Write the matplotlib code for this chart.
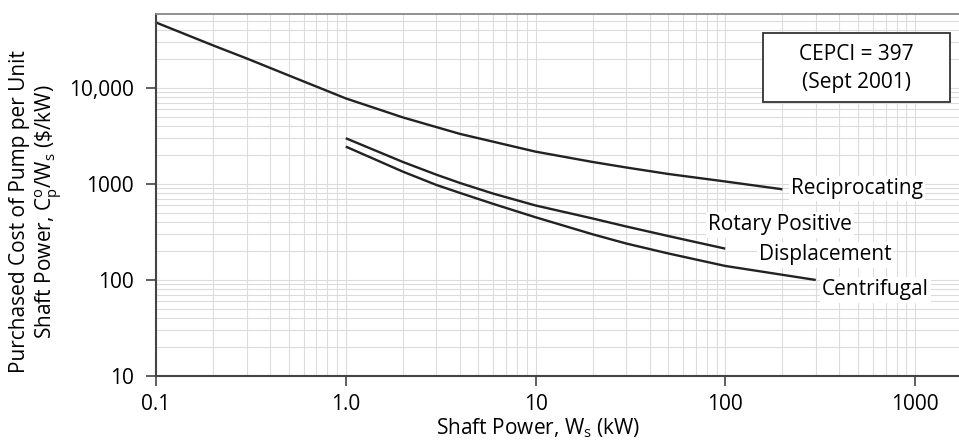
import matplotlib
matplotlib.use("Agg")
from matplotlib import pyplot as plt
from matplotlib.patches import Rectangle
from matplotlib.ticker import FixedLocator, LogLocator, NullFormatter

plt.rcParams['font.family'] = ['Open Sans', 'DejaVu Sans']

# values (kW, $/kW)
recip_x = [0.1, 0.2, 0.3, 0.5, 1.0, 2.0, 4.0, 10, 20, 30, 50, 100, 200]
recip_y = [48000, 27700, 20300, 13500, 7780, 4930, 3320, 2170, 1694, 1485, 1271, 1061, 880]
rotary_x = [1.0, 2.0, 3.0, 4.0, 6.0, 10, 20, 30, 50, 100]
rotary_y = [2993, 1694, 1250, 1023, 792, 597, 437, 361, 287, 212]
centri_x = [1.0, 2.0, 3.0, 4.0, 6.0, 10, 20, 30, 50, 100, 300]
centri_y = [2449, 1343, 977, 806, 619, 450, 299, 240, 189, 140, 100]

xticks = [0.1, 1.0, 10, 100, 1000]
xticklabels = ["0.1", "1.0", "10", "100", "1000"]
yticks = [10, 100, 1000, 10000]
yticklabels = ["10", "100", "1000", "10,000"]

fig = plt.figure(figsize=(9.59, 4.41), dpi=100)
ax = fig.add_axes([0.1627, 0.1474, 0.8373, 0.8209])

ln = dict(color='#222222', lw=1.7, solid_capstyle='butt', solid_joinstyle='round')
ax.plot(recip_x, recip_y, **ln)
ax.plot(rotary_x, rotary_y, **ln)
ax.plot(centri_x, centri_y, **ln)

ax.set_xscale('log')
ax.set_yscale('log')
ax.set_xlim(0.1, 1706)
ax.set_ylim(10, 10 ** 4.77)

ax.xaxis.set_major_locator(FixedLocator(xticks))
ax.set_xticklabels(xticklabels)
ax.yaxis.set_major_locator(FixedLocator(yticks))
ax.set_yticklabels(yticklabels)
ax.xaxis.set_minor_locator(LogLocator(base=10, subs=range(2, 10), numticks=20))
ax.yaxis.set_minor_locator(LogLocator(base=10, subs=range(2, 10), numticks=20))
ax.xaxis.set_minor_formatter(NullFormatter())
ax.yaxis.set_minor_formatter(NullFormatter())

ax.grid(True, which='both', color='#dcdcdc', lw=0.8)
ax.set_axisbelow(True)
ax.tick_params(axis='both', which='major', labelsize=15, length=7, width=1.2,
               color='#444444', direction='out', pad=6)
ax.tick_params(axis='both', which='minor', length=0)
ax.tick_params(axis='y', pad=9)

ax.spines['right'].set_visible(False)
for s in ['left', 'bottom']:
    ax.spines[s].set_color('#444444')
    ax.spines[s].set_linewidth(1.5)
ax.spines['top'].set_color('#888888')
ax.spines['top'].set_linewidth(1.3)

ax.set_xlabel(r"Shaft Power, W$_\mathregular{s}$ (kW)", fontsize=15, va='center')
ax.xaxis.set_label_coords(0.476, -0.144)
ax.set_ylabel("Purchased Cost of Pump per Unit\n"
              r"Shaft Power, C$^\mathregular{o}_\mathregular{p}$/W$_\mathregular{s}$ (\$/kW)",
              fontsize=15, linespacing=1.2, va='center', ha='center')
ax.yaxis.set_label_coords(-0.148, 0.455)

bb = dict(facecolor='white', edgecolor='none', pad=1.5)
ax.text(221, 900, "Reciprocating", fontsize=15, va='center', ha='left', bbox=bb)
ax.text(81.6, 374, "Rotary Positive", fontsize=15, va='center', ha='left', bbox=bb)
ax.text(150, 182, "Displacement", fontsize=15, va='center', ha='left', bbox=bb)
ax.text(322, 78.7, "Centrifugal", fontsize=15, va='center', ha='left', bbox=bb)

ax.add_patch(Rectangle((0.7555, 0.7577), 0.2333, 0.189, transform=ax.transAxes,
                       facecolor='white', edgecolor='#333333', lw=1.3, zorder=4))
ax.text(0.872, 0.8867, "CEPCI = 397", transform=ax.transAxes, fontsize=15,
        ha='center', va='center', zorder=5)
ax.text(0.872, 0.8094, "(Sept 2001)", transform=ax.transAxes, fontsize=15,
        ha='center', va='center', zorder=5)

fig.savefig("out.png", dpi=100)
